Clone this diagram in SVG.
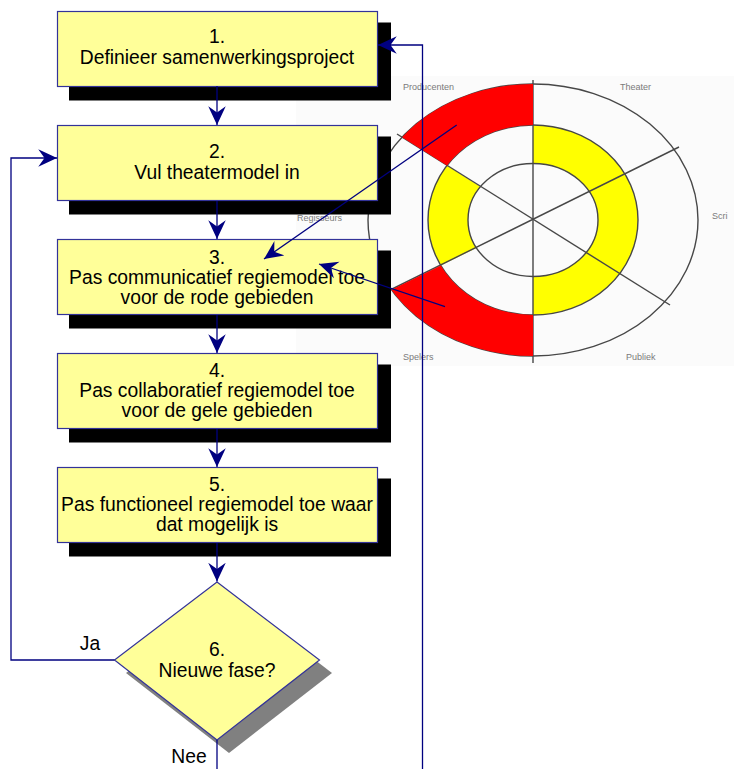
<svg xmlns="http://www.w3.org/2000/svg" width="734" height="769" viewBox="0 0 734 769">
<defs>
<style>
.box{fill:#ffff99;stroke:#333399;stroke-width:1.2}
.shadow{fill:#000}
.t{font-family:"Liberation Sans",Arial,sans-serif;font-size:19.3px;fill:#000;text-anchor:middle}
.lbl{font-family:"Liberation Sans",Arial,sans-serif;font-size:19.3px;fill:#000;text-anchor:middle}
.wl{font-family:"Liberation Sans",Arial,sans-serif;font-size:9px;fill:#7a7a7a}
.wheel{fill:none;stroke:#474747;stroke-width:1.4}
.con{fill:none;stroke:#000080;stroke-width:1.3}
</style>
<marker id="ah" markerUnits="userSpaceOnUse" markerWidth="20" markerHeight="20" refX="15" refY="7" orient="auto" viewBox="0 0 16 14">
<path d="M15,7 L0,0 L5,7 L0,14 Z" fill="#000080"/>
</marker>
</defs>

<g id="wheel">
<rect x="296" y="76" width="438" height="290" fill="#fbfbfb"/>
<path d="M533,125 A105,95 0 0 1 533,315 L533,276.5 A65,56.5 0 0 0 533,163.5 Z" fill="#ffff00"/>
<path d="M446.9,165.6 A105,95 0 0 0 440.8,265.5 L476.5,247.9 A65,56.5 0 0 1 480.4,186.8 Z" fill="#ffff00"/>
<ellipse class="wheel" cx="533" cy="220" rx="165" ry="136"/>
<ellipse class="wheel" cx="533" cy="220" rx="105" ry="95"/>
<ellipse class="wheel" cx="533" cy="220" rx="65" ry="56.5"/>
<line class="wheel" x1="533" y1="80" x2="533" y2="363"/>
<line class="wheel" x1="397" y1="134" x2="670" y2="305"/>
<line class="wheel" x1="386" y1="292" x2="679" y2="147"/>
<path d="M533,84 A165,136 0 0 0 402.1,137.2 L446.9,165.6 A105,95 0 0 1 533,125 Z" fill="#ff0000"/>
<path d="M533,356 A165,136 0 0 1 391.4,289.8 L440.8,265.5 A105,95 0 0 0 533,315 Z" fill="#ff0000"/>
<text class="wl" x="403" y="90">Producenten</text>
<text class="wl" x="620" y="90">Theater</text>
<text class="wl" x="712" y="219">Scri</text>
<text class="wl" x="297" y="221">Regisseurs</text>
<text class="wl" x="403" y="360">Spelers</text>
<text class="wl" x="626" y="360">Publiek</text>
</g>

<g id="node1">
<rect class="shadow" x="69" y="22.5" width="322" height="78"/>
<rect class="box" x="57.5" y="11.5" width="320" height="75"/>
<text class="t" x="217" y="43">1.</text>
<text class="t" x="217" y="64">Definieer samenwerkingsproject</text>
</g>
<g id="node2">
<rect class="shadow" x="69" y="136.5" width="322" height="78"/>
<rect class="box" x="57.5" y="125.5" width="320" height="75"/>
<text class="t" x="217" y="158">2.</text>
<text class="t" x="217" y="179">Vul theatermodel in</text>
</g>
<g id="node3">
<rect class="shadow" x="69" y="250.5" width="322" height="78"/>
<rect class="box" x="57.5" y="239.5" width="320" height="75"/>
<text class="t" x="217" y="263.5">3.</text>
<text class="t" x="217" y="284">Pas communicatief regiemodel toe</text>
<text class="t" x="217" y="303.5">voor de rode gebieden</text>
</g>
<g id="node4">
<rect class="shadow" x="69" y="364.5" width="322" height="78"/>
<rect class="box" x="57.5" y="353.5" width="320" height="75"/>
<text class="t" x="217" y="377">4.</text>
<text class="t" x="217" y="397">Pas collaboratief regiemodel toe</text>
<text class="t" x="217" y="417">voor de gele gebieden</text>
</g>
<g id="node5">
<rect class="shadow" x="69" y="478.5" width="322" height="78"/>
<rect class="box" x="57.5" y="467.5" width="320" height="75"/>
<text class="t" x="217" y="491">5.</text>
<text class="t" x="217" y="511">Pas functioneel regiemodel toe waar</text>
<text class="t" x="217" y="531">dat mogelijk is</text>
</g>
<g id="node6">
<polygon points="229,594 332,673 229,753 126,673" fill="#808080"/>
<polygon class="box" points="217,582 319.5,660 217,740 114.5,660"/>
<text class="t" x="217" y="656">6.</text>
<text class="t" x="217" y="677">Nieuwe fase?</text>
</g>

<g id="connectors">
<line class="con" x1="217" y1="86" x2="217" y2="125" marker-end="url(#ah)"/>
<line class="con" x1="217" y1="201" x2="217" y2="239" marker-end="url(#ah)"/>
<line class="con" x1="217" y1="315" x2="217" y2="353" marker-end="url(#ah)"/>
<line class="con" x1="217" y1="429" x2="217" y2="467" marker-end="url(#ah)"/>
<line class="con" x1="217" y1="543" x2="217" y2="581.5" marker-end="url(#ah)"/>
<polyline class="con" points="114.5,660 11,660 11,158 57,158" marker-end="url(#ah)"/>
<line class="con" x1="217" y1="740" x2="217" y2="769"/>
<polyline class="con" points="422.5,769 422.5,45 378,45" marker-end="url(#ah)"/>
<line class="con" x1="456.7" y1="125" x2="264" y2="259" marker-end="url(#ah)"/>
<line class="con" x1="445" y1="306.7" x2="319" y2="264" marker-end="url(#ah)"/>
<text class="lbl" x="90" y="650">Ja</text>
<text class="lbl" x="189" y="763">Nee</text>
</g>
</svg>
